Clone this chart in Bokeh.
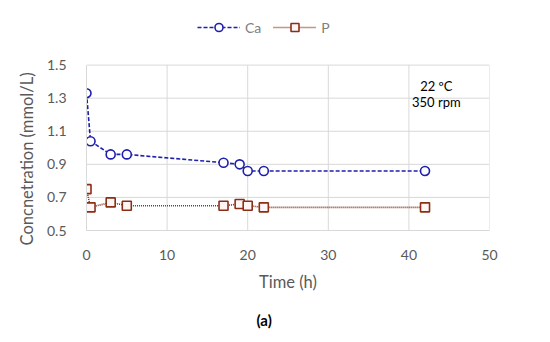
from bokeh.plotting import figure
from bokeh.models import (FixedTicker, Range1d, Legend, LegendItem, Label)
from bokeh.embed import file_html
from bokeh.resources import INLINE

time_ca = [0, 0.5, 3, 5, 17, 19, 20, 22, 42]
ca = [1.33, 1.04, 0.96, 0.96, 0.91, 0.90, 0.86, 0.86, 0.86]
time_p = [0, 0.5, 3, 5, 17, 19, 20, 22, 42]
p_vals = [0.75, 0.64, 0.67, 0.65, 0.65, 0.66, 0.65, 0.64, 0.64]
x_ticks = [0, 10, 20, 30, 40, 50]
y_ticks = [0.5, 0.7, 0.9, 1.1, 1.3, 1.5]

FONT = "Lato"
GREY = "#595959"
GRID = "#d9d9d9"
CA_COLOR = "#1f1fae"
P_COLOR = "#8b2e16"
Y_LO, Y_HI = y_ticks[0], y_ticks[-1]
X_LO, X_HI = x_ticks[0], x_ticks[-1]

p = figure(width=534, height=342, output_backend="svg", toolbar_location=None,
           title="(a)", title_location="below",
           x_range=Range1d(X_LO, X_HI), y_range=Range1d(Y_LO, 1.8),
           min_border_left=86, min_border_right=45, min_border_top=15, min_border_bottom=109)
p.outline_line_color = None
p.background_fill_color = "white"
p.xgrid.visible = False
p.ygrid.visible = False

for ax in (p.xaxis[0], p.yaxis[0]):
    ax.axis_line_color = GRID
    ax.major_tick_line_color = None
    ax.minor_tick_line_color = None
    ax.major_label_text_color = GREY
    ax.major_label_text_font = FONT
    ax.major_label_text_font_size = "14px"
    ax.axis_label_text_font = FONT
    ax.axis_label_text_font_size = "16.5px"
    ax.axis_label_text_font_style = "normal"
    ax.axis_label_text_color = GREY

p.xaxis.ticker = FixedTicker(ticks=x_ticks)
p.yaxis.ticker = FixedTicker(ticks=y_ticks)
p.yaxis.bounds = (Y_LO, Y_HI)
p.xaxis.axis_label = "Time (h)"
# trailing no-break spaces move the centred label down to the data area
p.yaxis.axis_label = "Concnetration (mmol/L)" + "\u00a0" * 17
p.xaxis.major_label_standoff = 13
p.xaxis.axis_label_standoff = 9
p.yaxis.major_label_standoff = 14
p.yaxis.axis_label_standoff = 7

p.title.align = "left"
p.title.offset = 170
p.title.standoff = 28
p.title.text_font = FONT
p.title.text_font_size = "15px"
p.title.text_font_style = "bold"
p.title.text_color = "black"

# gridlines limited to the data area
p.segment(x0=x_ticks, y0=[Y_LO] * len(x_ticks), x1=x_ticks, y1=[Y_HI] * len(x_ticks),
          line_color=GRID, line_width=1)
p.segment(x0=[X_LO] * len(y_ticks), y0=y_ticks, x1=[X_HI] * len(y_ticks), y1=y_ticks,
          line_color=GRID, line_width=1)

l1 = p.line(time_ca, ca, line_color=CA_COLOR, line_width=1.6, line_dash="4 2")
s1 = p.scatter(time_ca, ca, marker="circle", size=9, line_color=CA_COLOR, line_width=1.6,
               fill_color="white")
l2 = p.line(time_p, p_vals, line_color=P_COLOR, line_width=1.6, line_dash="1 1")
s2 = p.scatter(time_p, p_vals, marker="square", size=9, line_color=P_COLOR, line_width=1.6,
               fill_color="#fff5f5")

legend = Legend(items=[LegendItem(label="Ca", renderers=[l1, s1]),
                       LegendItem(label="P", renderers=[l2, s2])],
                orientation="horizontal", location=(111, 193),
                glyph_width=43, glyph_height=20, label_standoff=5, spacing=12,
                label_width=10, padding=0, margin=0, border_line_color=None,
                background_fill_alpha=0,
                label_text_font=FONT, label_text_font_size="14px", label_text_color="#808080")
p.add_layout(legend, "center")

for txt, yy in (("22 \u00baC", 1.375), ("350 rpm", 1.274)):
    p.add_layout(Label(x=43.4, y=yy, text=txt, text_align="center", text_baseline="middle",
                       text_font=FONT, text_font_size="13px", text_color="black"))

open("out.html", "w").write(file_html(p, INLINE))
